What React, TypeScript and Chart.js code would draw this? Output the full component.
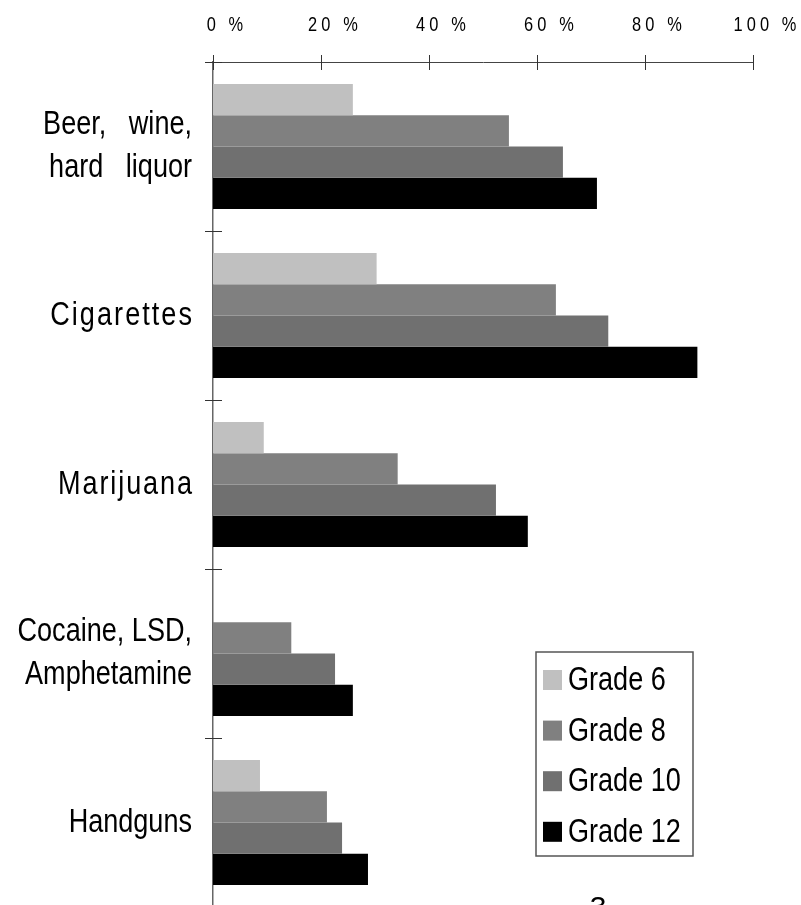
import React, { useEffect, useRef } from "react";
import { Chart, registerables } from "chart.js";

Chart.register(...registerables);

const categories: (string | string[])[] = [
  ["Beer,   wine,", "hard   liquor"],
  "Cigarettes",
  "Marijuana",
  ["Cocaine, LSD,", "Amphetamine"],
  "Handguns",
];
const seriesNames = ["Grade 6", "Grade 8", "Grade 10", "Grade 12"];
const grade6 = [25.9, 30.3, 9.4, 0, 8.7];
const grade8 = [54.8, 63.5, 34.2, 14.5, 21.1];
const grade10 = [64.8, 73.2, 52.4, 22.6, 23.9];
const grade12 = [71.1, 89.7, 58.3, 25.9, 28.7];
const xTickValues = [0, 20, 40, 60, 80, 100];
const xTickLabels = ["0 %", "20 %", "40 %", "60 %", "80 %", "100 %"];
const pageNumber = "3";

const seriesColors = ["#c0c0c0", "#808080", "#707070", "#000000"];
const FONT = "'Liberation Sans', Arial, sans-serif";
const NARROW = 0.82; // emulate a narrow sans face by horizontal condensing
// extra tracking (px) the original used on a few right-aligned labels
const labelTracking: Record<string, number> = { Cigarettes: 2.5, Marijuana: 2.3 };

let condense = true;

const decorPlugin = {
  id: "decor",
  afterDatasetsDraw(chart: any) {
    chart.ctx.letterSpacing = "5px";
  },
  afterDraw(chart: any) {
    const ctx = chart.ctx as CanvasRenderingContext2D;
    (ctx as any).letterSpacing = "0px";
    const xs = chart.scales.x;
    const ys = chart.scales.y;
    const top = chart.chartArea.top;
    const left = chart.chartArea.left;
    ctx.save();
    ctx.strokeStyle = "#333";
    ctx.lineWidth = 1;
    xs.ticks.forEach((t: any) => {
      const px = Math.round(xs.getPixelForValue(t.value)) + 0.5;
      ctx.beginPath();
      ctx.moveTo(px, top - 7);
      ctx.lineTo(px, top + 8);
      ctx.stroke();
    });
    for (let i = 0; i <= categories.length; i++) {
      const py = Math.round(ys.getPixelForValue(i - 0.5)) + 0.5;
      ctx.beginPath();
      ctx.moveTo(left - 8, py);
      ctx.lineTo(left + 9, py);
      ctx.stroke();
    }
    // legend box
    const bx = 536, by = 652, bw = 157, bh = 204;
    ctx.strokeStyle = "#555";
    ctx.lineWidth = 1.5;
    ctx.strokeRect(bx, by, bw, bh);
    ctx.font = `33px ${FONT}`;
    ctx.textBaseline = "middle";
    ctx.textAlign = "left";
    chart.data.datasets.forEach((ds: any, i: number) => {
      const cy = 680 + i * 50.6;
      ctx.fillStyle = ds.backgroundColor;
      ctx.fillRect(543, cy - 10, 19, 20);
      ctx.fillStyle = "#000";
      ctx.fillText(ds.label, 568, cy + 1);
    });
    // page number, cut by the page edge
    condense = false;
    ctx.font = `30px ${FONT}`;
    ctx.textBaseline = "alphabetic";
    ctx.textAlign = "center";
    ctx.fillStyle = "#000";
    ctx.fillText(pageNumber, 598, 917);
    condense = true;
    ctx.restore();
  },
};

export default function App() {
  const ref = useRef<HTMLCanvasElement>(null);
  useEffect(() => {
    const canvas = ref.current as HTMLCanvasElement;
    const ctx = canvas.getContext("2d") as CanvasRenderingContext2D;
    const orig = CanvasRenderingContext2D.prototype.fillText;
    (ctx as any).fillText = function (text: string, x: number, y: number, maxWidth?: number) {
      if (!condense) return orig.call(ctx, text, x, y);
      const track = labelTracking[text];
      let prevLS: string | null = null;
      let dx = 0;
      if (track && ctx.textAlign === "right") {
        prevLS = (ctx as any).letterSpacing;
        (ctx as any).letterSpacing = `${track}px`;
        dx = track * NARROW;
      }
      const w = ctx.measureText(text).width * NARROW;
      const mw = maxWidth === undefined || maxWidth === null ? w : Math.min(maxWidth, w);
      const r = orig.call(ctx, text, x + dx, y, mw);
      if (prevLS !== null) (ctx as any).letterSpacing = prevLS;
      return r;
    };
    const chart = new Chart(canvas, {
      type: "bar",
      data: {
        labels: categories as any,
        datasets: [grade6, grade8, grade10, grade12].map((d, i) => ({
          label: seriesNames[i],
          data: d,
          backgroundColor: seriesColors[i],
          borderWidth: 0,
          categoryPercentage: 0.74,
          barPercentage: 1.0,
        })),
      },
      options: {
        indexAxis: "y",
        responsive: false,
        animation: false,
        layout: { padding: { left: 0, top: 0, right: 48, bottom: 5 } },
        plugins: {
          legend: { display: false },
          tooltip: { enabled: false },
        },
        scales: {
          x: {
            type: "linear",
            position: "top",
            min: 0,
            max: 100,
            afterBuildTicks: (scale: any) => {
              scale.ticks = xTickValues.map((v) => ({ value: v }));
            },
            afterFit: (scale: any) => {
              scale.height = 62;
              scale.paddingLeft = 0;
              scale.paddingRight = 0;
            },
            ticks: {
              callback: (v: any) => xTickLabels[xTickValues.indexOf(Number(v))],
              font: { family: FONT, size: 20, lineHeight: 1.2 },
              color: "#000",
              labelOffset: 14,
              padding: 25,
              z: 1,
              maxRotation: 0,
              autoSkip: false,
            },
            grid: { drawOnChartArea: false, drawTicks: false, display: false },
            border: { display: true, color: "#444", width: 1 },
          },
          y: {
            type: "category",
            offset: true,
            afterFit: (scale: any) => {
              scale.width = 213;
              scale.paddingTop = 0;
              scale.paddingBottom = 0;
            },
            ticks: {
              font: { family: FONT, size: 33, lineHeight: 1.28 },
              color: "#000",
              padding: 21,
              autoSkip: false,
            },
            grid: { drawOnChartArea: false, drawTicks: false, display: false },
            border: { display: true, color: "#666", width: 1.5 },
          },
        },
      },
      plugins: [decorPlugin],
    } as any);
    return () => {
      chart.destroy();
      delete (ctx as any).fillText;
    };
  }, []);
  return (
    <div
      style={{
        position: "fixed",
        left: 0,
        top: 0,
        width: 801,
        height: 905,
        overflow: "hidden",
        background: "#fff",
      }}
    >
      <canvas ref={ref} width={801} height={912} style={{ display: "block" }} />
    </div>
  );
}
